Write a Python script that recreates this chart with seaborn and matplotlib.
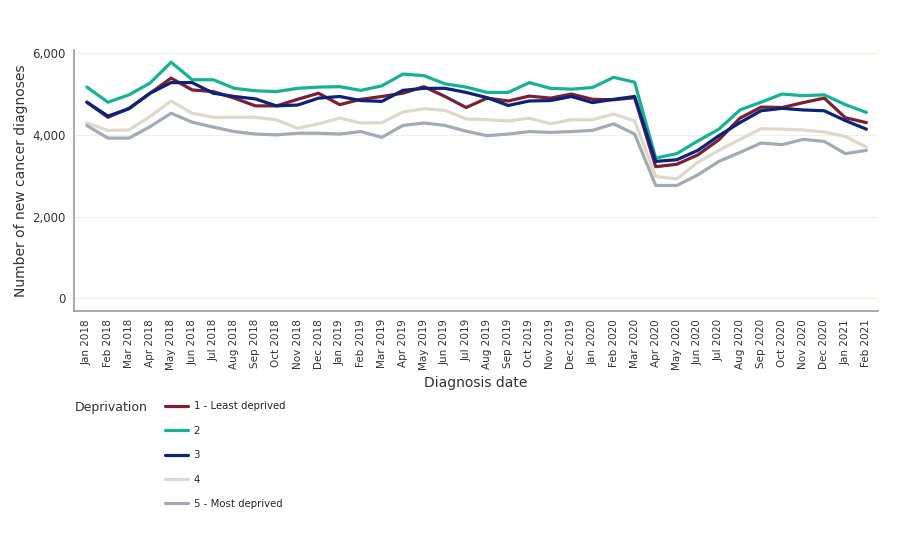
import pandas as pd
import matplotlib
matplotlib.use("Agg")
import matplotlib.pyplot as plt
import seaborn as sns

# ======================
# data
# ======================

months = [
    "Jan 2018", "Feb 2018", "Mar 2018", "Apr 2018", "May 2018", "Jun 2018",
    "Jul 2018", "Aug 2018", "Sep 2018", "Oct 2018", "Nov 2018", "Dec 2018",
    "Jan 2019", "Feb 2019", "Mar 2019", "Apr 2019", "May 2019", "Jun 2019",
    "Jul 2019", "Aug 2019", "Sep 2019", "Oct 2019", "Nov 2019", "Dec 2019",
    "Jan 2020", "Feb 2020", "Mar 2020", "Apr 2020", "May 2020", "Jun 2020",
    "Jul 2020", "Aug 2020", "Sep 2020", "Oct 2020", "Nov 2020", "Dec 2020",
    "Jan 2021", "Feb 2021",
]

dep1 = [4800, 4430, 4650, 5020, 5390, 5100, 5060, 4900, 4710, 4710, 4870, 5020,
        4740, 4870, 4940, 5020, 5180, 4940, 4670, 4900, 4830, 4950, 4900, 5000,
        4870, 4860, 4910, 3220, 3280, 3510, 3880, 4410, 4680, 4670, 4790, 4900,
        4420, 4300]
dep2 = [5170, 4800, 4980, 5270, 5780, 5350, 5350, 5140, 5080, 5060, 5140, 5170,
        5180, 5090, 5200, 5490, 5450, 5250, 5170, 5040, 5040, 5280, 5140, 5120,
        5160, 5410, 5290, 3430, 3540, 3850, 4140, 4610, 4800, 5000, 4960, 4980,
        4740, 4550]
dep3 = [4800, 4460, 4640, 5020, 5280, 5280, 5020, 4940, 4880, 4710, 4730, 4900,
        4940, 4840, 4820, 5090, 5140, 5140, 5040, 4910, 4720, 4830, 4840, 4940,
        4790, 4870, 4940, 3350, 3390, 3620, 3980, 4300, 4590, 4650, 4610, 4590,
        4350, 4140]
dep4 = [4290, 4110, 4120, 4450, 4830, 4530, 4430, 4430, 4430, 4370, 4160, 4270,
        4410, 4290, 4300, 4560, 4640, 4600, 4390, 4370, 4340, 4410, 4270, 4370,
        4370, 4510, 4340, 2980, 2920, 3330, 3620, 3890, 4150, 4140, 4120, 4070,
        3960, 3700]
dep5 = [4230, 3920, 3920, 4200, 4530, 4310, 4190, 4080, 4020, 4000, 4040, 4040,
        4020, 4080, 3940, 4230, 4290, 4230, 4090, 3980, 4020, 4080, 4060, 4080,
        4110, 4270, 4020, 2760, 2760, 3020, 3350, 3570, 3800, 3760, 3890, 3840,
        3540, 3620]

groups = ["1 - Least deprived", "2", "3", "4", "5 - Most deprived"]
colours = ["#7B1F33", "#15B293", "#0C237A", "#DCD9CB", "#A2AAB4"]

# ======================
# long table for seaborn
# ======================

rows = []
for name, vals in zip(groups, [dep1, dep2, dep3, dep4, dep5]):
    for i, v in enumerate(vals):
        rows.append({"idx": i, "month": months[i], "Deprivation": name, "count": v})
df = pd.DataFrame(rows)

# ======================
# plot
# ======================

sns.set_style("white")
plt.rcParams["font.family"] = ["DejaVu Sans"]

fig = plt.figure(figsize=(9, 5.55), dpi=100)
ax = fig.add_axes([0.082, 0.44, 0.894, 0.47])

sns.lineplot(data=df, x="idx", y="count", hue="Deprivation",
             hue_order=groups, palette=colours, linewidth=2.3, ax=ax)

ax.set_xlim(-0.62, 37.57)
ax.set_ylim(-310, 6080)
ax.set_yticks([0, 2000, 4000, 6000])
ax.set_yticklabels(["0", "2,000", "4,000", "6,000"], fontsize=8.5, color="#333333")
ax.set_xticks(range(len(months)))
ax.set_xticklabels(months, rotation=90, fontsize=7.5, color="#333333")

ax.grid(axis="y", color="#F1F0E6", linewidth=0.8)
ax.set_axisbelow(True)
for side in ["top", "right"]:
    ax.spines[side].set_visible(False)
for side in ["left", "bottom"]:
    ax.spines[side].set_color("#9A9A9A")
    ax.spines[side].set_linewidth(1.2)
ax.tick_params(axis="both", length=3, width=0.8, color="#9A9A9A", pad=3)

ax.set_xlabel("Diagnosis date", fontsize=10, color="#333333", labelpad=4)
ax.set_ylabel("Number of new cancer diagnoses", fontsize=10, color="#333333", labelpad=3)

# legend under the chart, title to the left
handles, labels = ax.get_legend_handles_labels()
ax.get_legend().remove()
fig.legend(handles, labels, loc="upper left", bbox_to_anchor=(0.179, 0.284),
           frameon=False, fontsize=7.3, handlelength=2.3, handletextpad=0.5,
           labelspacing=1.42, borderaxespad=0)
fig.text(0.083, 0.265, "Deprivation", fontsize=9, color="#333333", va="center")

fig.savefig("out.png", dpi=100)
